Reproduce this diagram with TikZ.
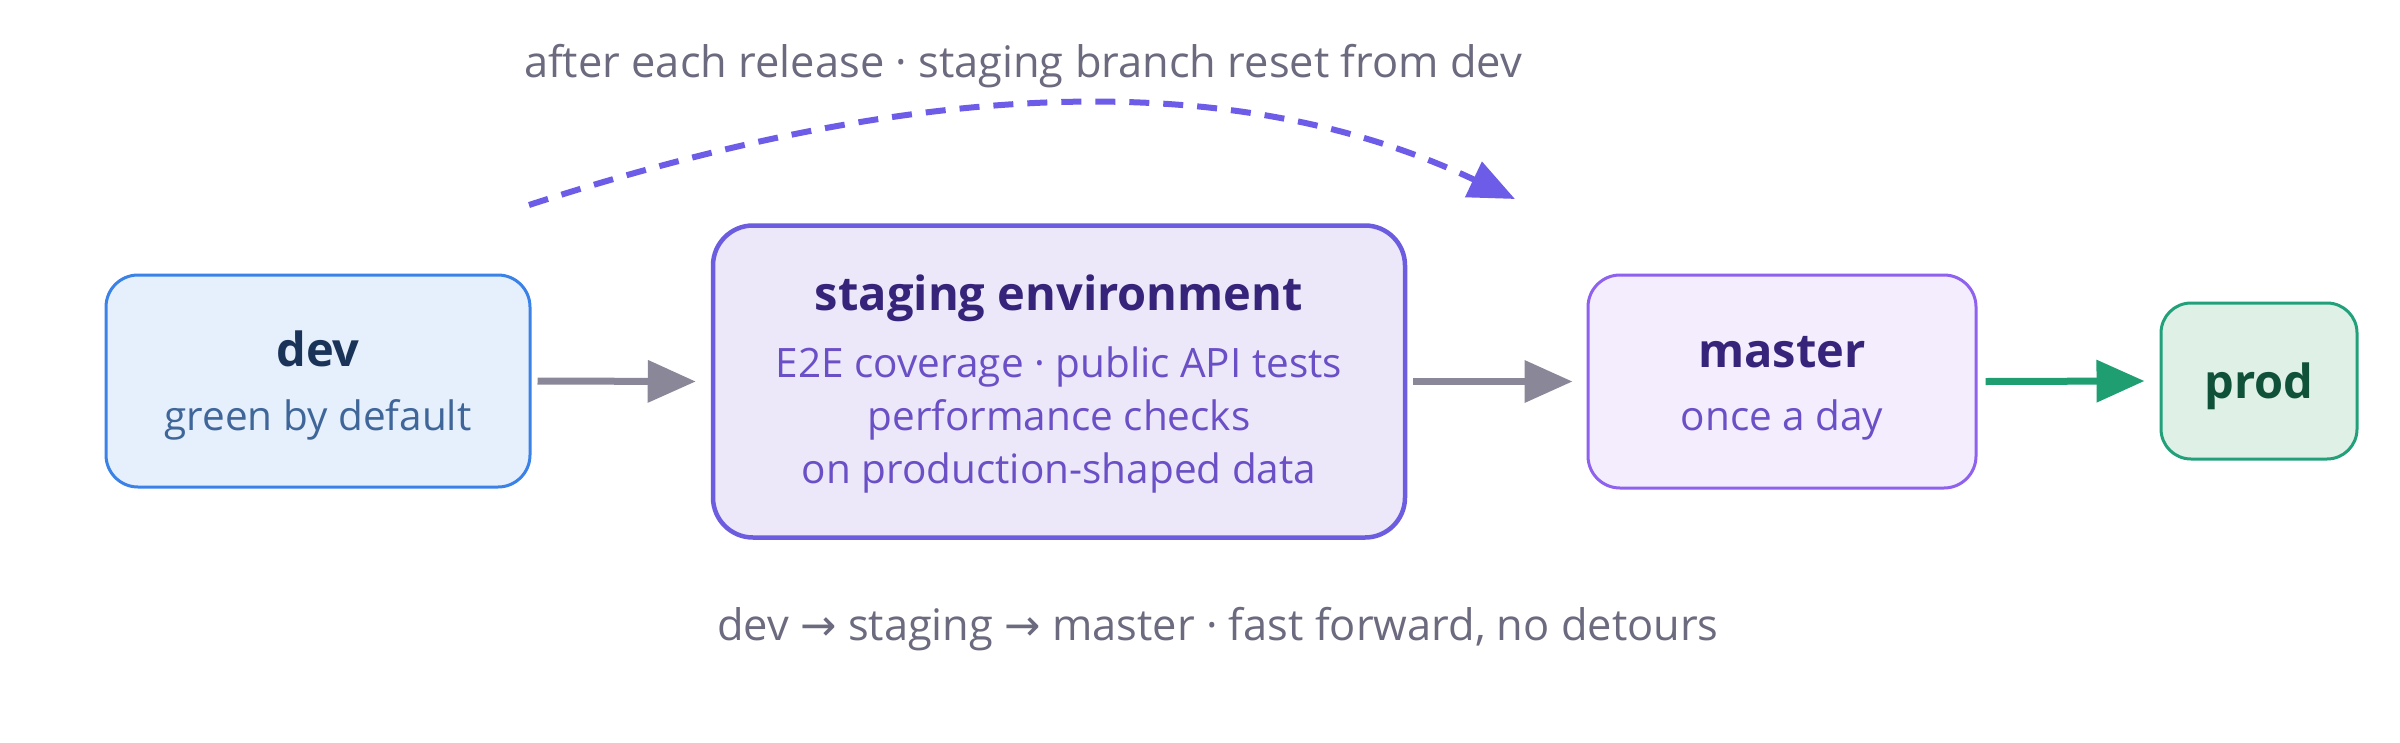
\documentclass[tikz,border=0pt]{standalone}
\usepackage{fontspec}
\setmainfont{Open Sans}
\newfontfamily\symfont{DejaVu Sans}
\usetikzlibrary{arrows.meta}
\definecolor{devfill}{HTML}{E6EFFC}
\definecolor{devdraw}{HTML}{3B82E8}
\definecolor{devtitle}{HTML}{1A3358}
\definecolor{devsub}{HTML}{3F6699}
\definecolor{stgfill}{HTML}{ECE8F9}
\definecolor{stgdraw}{HTML}{6C5CE0}
\definecolor{stgtitle}{HTML}{36237A}
\definecolor{stgsub}{HTML}{6A4FC6}
\definecolor{mstfill}{HTML}{F3EDFD}
\definecolor{mstdraw}{HTML}{8E62EE}
\definecolor{prodfill}{HTML}{DFF0E7}
\definecolor{proddraw}{HTML}{22A07A}
\definecolor{prodtitle}{HTML}{0F5239}
\definecolor{arrowgray}{HTML}{8A8898}
\definecolor{arrowgreen}{HTML}{1F9E72}
\definecolor{arcviolet}{HTML}{6C5CE7}
\definecolor{labelgray}{HTML}{6B6A7E}
\begin{document}
\begin{tikzpicture}[x=1pt,y=-1pt,
  box/.style={rounded corners=32pt, inner sep=0pt, line width=3pt},
  titletext/.style={font=\fontsize{47}{53}\selectfont\bfseries, inner sep=0pt, anchor=base},
  subtext/.style={font=\fontsize{40.5}{46}\selectfont, inner sep=0pt, anchor=base},
  labeltext/.style={font=\fontsize{43.4}{49}\selectfont, text=labelgray, inner sep=0pt, anchor=base},
  grayarrow/.style={draw=arrowgray, line width=7pt, -{Triangle[length=48pt,width=41pt]}},
  greenarrow/.style={draw=arrowgreen, line width=7pt, -{Triangle[length=48pt,width=41pt]}},
  dasharc/.style={draw=arcviolet, line width=6pt, dash pattern=on 20pt off 14pt, -{Triangle[length=46pt,width=38pt]}}
]
\useasboundingbox (0,0) rectangle (2400,742);
\fill[white] (0,0) rectangle (2400,742);

% boxes
\node[box, draw=devdraw, fill=devfill, minimum width=424pt, minimum height=212pt] (dev) at (318,381) {};
\node[box, draw=stgdraw, fill=stgfill, line width=4.5pt, rounded corners=40pt, minimum width=692pt, minimum height=312pt] (stg) at (1059,381.5) {};
\node[box, draw=mstdraw, fill=mstfill, minimum width=388pt, minimum height=213pt] (mst) at (1782,381.5) {};
\node[box, draw=proddraw, fill=prodfill, rounded corners=30pt, minimum width=196pt, minimum height=156pt] (prod) at (2259,381) {};

% texts
\node[titletext, text=devtitle] (devT) at (318,366) {dev};
\node[subtext, text=devsub] (devS) at (318,430) {green by default};
\node[titletext, text=stgtitle] (stgT) at (1059,310) {staging environment};
\node[subtext, text=stgsub] (stgS1) at (1059,377) {E2E coverage · public API tests};
\node[subtext, text=stgsub] (stgS2) at (1059,430) {performance checks};
\node[subtext, text=stgsub] (stgS3) at (1059,483) {on production-shaped data};
\node[titletext, text=stgtitle] (mstT) at (1782,367) {master};
\node[subtext, text=stgsub] (mstS) at (1782,430) {once a day};
\node[titletext, text=prodtitle] (prodT) at (2259,398) {prod};

% connectors
\draw[grayarrow] ([xshift=6pt]dev.east) -- ([xshift=-15pt]stg.west);
\draw[grayarrow] ([xshift=6pt]stg.east) -- ([xshift=-14pt]mst.west);
\draw[greenarrow] ([xshift=8pt]mst.east) -- ([xshift=-15pt]prod.west);

% reset arc
\coordinate (arcS) at (529,205);
\coordinate (arcE) at (1515,199);
\draw[dasharc] (arcS) .. controls (859,98) and (1200,50) .. (arcE);

% labels
\node[labeltext] (topL) at (1023,77) {after each release · staging branch reset from dev};
\node[labeltext] (botL) at (1218,640) {dev {\symfont →} staging {\symfont →} master · fast forward, no detours};
\end{tikzpicture}
\end{document}
